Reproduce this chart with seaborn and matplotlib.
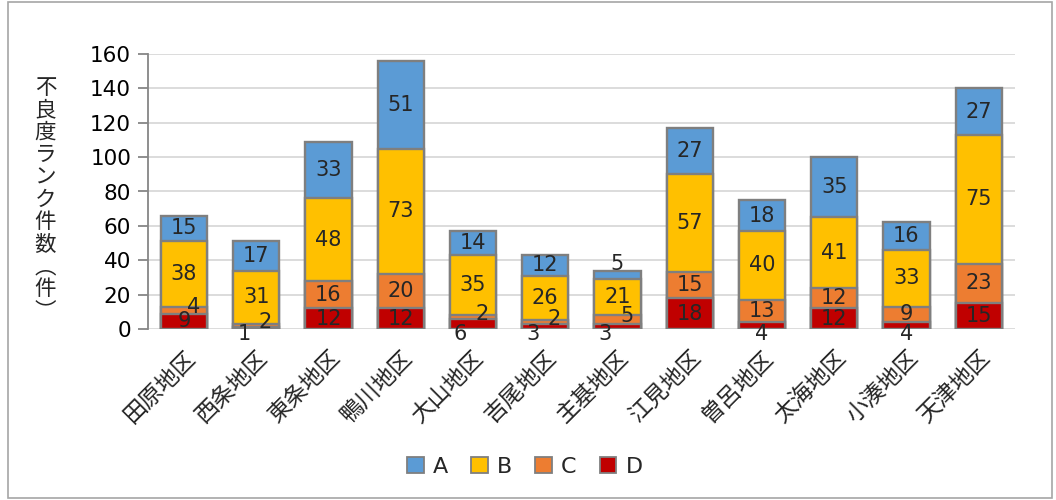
import matplotlib
matplotlib.use("Agg")
import matplotlib.pyplot as plt
import seaborn as sns
import pandas as pd
import numpy as np
from matplotlib.patches import Rectangle, Patch

districts = ["田原地区", "西条地区", "東条地区", "鴨川地区", "大山地区", "吉尾地区",
             "主基地区", "江見地区", "曽呂地区", "太海地区", "小湊地区", "天津地区"]
rank_A = [15, 17, 33, 51, 14, 12, 5, 27, 18, 35, 16, 27]
rank_B = [38, 31, 48, 73, 35, 26, 21, 57, 40, 41, 33, 75]
rank_C = [4, 2, 16, 20, 2, 2, 5, 15, 13, 12, 9, 23]
rank_D = [9, 1, 12, 12, 6, 3, 3, 18, 4, 12, 4, 15]
y_ticks = [0, 20, 40, 60, 80, 100, 120, 140, 160]
y_title = "不良度ランク件数︵件︶"

colors = {"A": "#5B9BD5", "B": "#FFC000", "C": "#ED7D31", "D": "#C00000"}

sns.set_theme(style="white")
plt.rcParams["font.family"] = ["DejaVu Sans", "Noto Sans CJK JP"]

fig = plt.figure(figsize=(10.56, 5.0), dpi=100)
ax = fig.add_axes([0.140, 0.342, 0.821, 0.550])

D = np.array(rank_D)
C = np.array(rank_C)
B = np.array(rank_B)
A = np.array(rank_A)
layers = [("A", D + C + B + A), ("B", D + C + B), ("C", D + C), ("D", D)]
for key, cum in layers:
    df = pd.DataFrame({"district": districts, "value": cum})
    sns.barplot(data=df, x="district", y="value", order=districts, color=colors[key],
                width=0.64, edgecolor="#7F7F7F", linewidth=1.7, saturation=1,
                ax=ax, zorder=3)

ax.set_ylim(0, 160)
ax.set_xlim(-0.5, len(districts) - 0.5)
ax.set_yticks(y_ticks)
ax.set_yticklabels([str(t) for t in y_ticks], fontsize=15.5, color="#000000")
ax.yaxis.grid(True, color="#D9D9D9", linewidth=1.3, zorder=0)
ax.set_axisbelow(True)
ax.set_xlabel("")
ax.set_ylabel("")
for s in ["top", "right", "bottom"]:
    ax.spines[s].set_visible(False)
ax.spines["left"].set_color("#868686")
ax.spines["left"].set_linewidth(1.3)
ax.tick_params(axis="y", left=True, length=7, width=1.3, color="#868686", pad=5)
ax.tick_params(axis="x", bottom=False, pad=6)
ax.set_xticks(range(len(districts)))
ax.set_xticklabels(districts, rotation=45, ha="right", rotation_mode="anchor",
                   fontsize=16.5, family=["Noto Sans CJK JP"])

# data labels
fs = 15
for i in range(len(districts)):
    d, c, b, a = D[i], C[i], B[i], A[i]
    small_d = d < 7
    # D
    if small_d:
        dx = -0.17 if (c < 7) else 0.0
        ax.text(i + dx, -3.2, str(d), ha="center", va="center", fontsize=fs)
    else:
        ax.text(i, d / 2, str(d), ha="center", va="center", fontsize=fs)
    # C
    if c < 7:
        ax.text(i + 0.13, d + c / 2 + 1.8, str(c), ha="center", va="center", fontsize=fs)
    else:
        ax.text(i, d + c / 2, str(c), ha="center", va="center", fontsize=fs)
    # B
    ax.text(i, d + c + b / 2, str(b), ha="center", va="center", fontsize=fs)
    # A
    if a < 7:
        ax.text(i, d + c + b + a + 4, str(a), ha="center", va="center", fontsize=fs)
    else:
        ax.text(i, d + c + b + a / 2, str(a), ha="center", va="center", fontsize=fs)

# vertical y-axis title
fig.text(0.043, 0.60, "\n".join(y_title), ha="center", va="center",
         fontsize=15.5, linespacing=1.02, family=["Noto Sans CJK JP"])

handles = [Patch(facecolor=colors[k], edgecolor="#7F7F7F", linewidth=1.3) for k in ["A", "B", "C", "D"]]
fig.legend(handles, ["A", "B", "C", "D"], loc="center", bbox_to_anchor=(0.497, 0.066),
           ncol=4, frameon=False, fontsize=16, handlelength=0.75, handleheight=0.75,
           handletextpad=0.4, columnspacing=1.05)

fig.patches.append(Rectangle((0.008, 0.005), 0.988, 0.992, transform=fig.transFigure,
                             fill=False, edgecolor="#A6A6A6", linewidth=1.2))

fig.savefig("out.png", dpi=100)
